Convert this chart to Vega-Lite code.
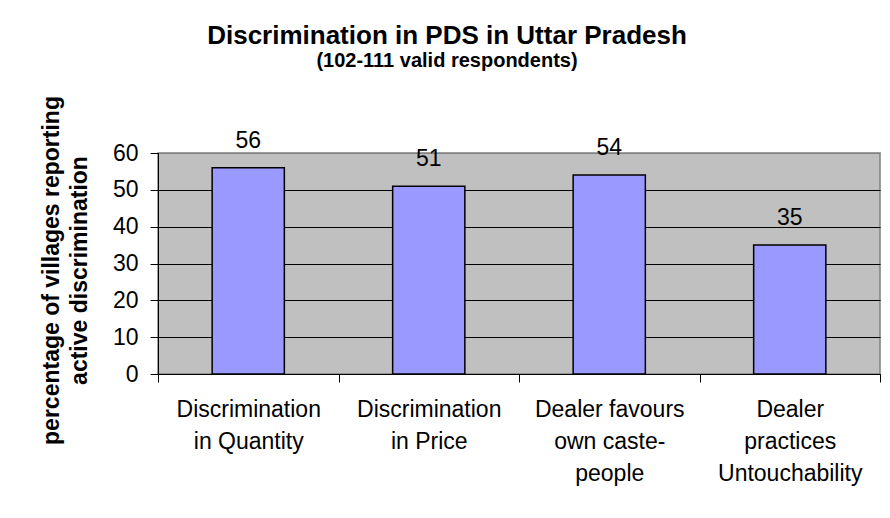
{
  "$schema": "https://vega.github.io/schema/vega-lite/v6.json",
  "width": 722,
  "height": 221,
  "autosize": "none",
  "padding": {"left": 158, "top": 153, "right": 10, "bottom": 144},
  "background": "white",
  "title": {
    "text": "Discrimination in PDS in Uttar Pradesh",
    "subtitle": "(102-111 valid respondents)",
    "font": "Liberation Sans",
    "fontSize": 26,
    "fontWeight": "bold",
    "color": "black",
    "subtitleFont": "Liberation Sans",
    "subtitleFontSize": 20,
    "subtitleFontWeight": "bold",
    "subtitleColor": "black",
    "subtitlePadding": 2,
    "anchor": "middle",
    "dx": -72,
    "offset": 25
  },
  "data": {
    "values": [
      {"category": "Discrimination in Quantity", "percent": 56},
      {"category": "Discrimination in Price", "percent": 51},
      {"category": "Dealer favours own caste-people", "percent": 54},
      {"category": "Dealer practices Untouchability", "percent": 35}
    ]
  },
  "encoding": {
    "x": {
      "field": "category",
      "type": "nominal",
      "sort": null,
      "scale": {"paddingInner": 0, "paddingOuter": 0},
      "axis": {
        "title": null,
        "labelAngle": 0,
        "tickBand": "extent",
        "domainColor": "black",
        "tickColor": "black",
        "tickSize": 8,
        "labelFont": "Liberation Sans",
        "labelFontSize": 23,
        "labelColor": "black",
        "labelPadding": 16,
        "labelLineHeight": 32,
        "labelBaseline": "top",
        "labelLimit": 0,
        "grid": false,
        "labelExpr": "datum.value == 'Discrimination in Quantity' ? ['Discrimination','in Quantity'] : datum.value == 'Discrimination in Price' ? ['Discrimination','in Price'] : datum.value == 'Dealer favours own caste-people' ? ['Dealer favours','own caste-','people'] : datum.value == 'Dealer practices Untouchability' ? ['Dealer','practices','Untouchability'] : ''"
      }
    },
    "y": {
      "field": "percent",
      "type": "quantitative",
      "scale": {"domain": [0, 60]},
      "axis": {
        "title": ["percentage of villages reporting", "active discrimination"],
        "titleFont": "Liberation Sans",
        "titleFontSize": 23,
        "titleFontWeight": "bold",
        "titleColor": "black",
        "titleLineHeight": 28,
        "titleAngle": -90,
        "titleAlign": "center",
        "titleBaseline": "top",
        "titleX": -118,
        "titleY": 117,
        "values": [0, 10, 20, 30, 40, 50, 60],
        "tickSize": 8,
        "tickColor": "black",
        "domainColor": "black",
        "labelFont": "Liberation Sans",
        "labelFontSize": 23,
        "labelColor": "black",
        "labelPadding": 12,
        "grid": true,
        "gridColor": {"condition": {"test": "datum.value === 60", "value": "#808080"}, "value": "black"},
        "gridWidth": 1
      }
    }
  },
  "layer": [
    {"mark": {"type": "bar", "fill": "#9999FF", "stroke": "black", "strokeWidth": 1.5, "width": {"band": 0.4}}},
    {
      "mark": {"type": "text", "baseline": "alphabetic", "dy": -20, "font": "Liberation Sans", "fontSize": 23, "color": "black"},
      "encoding": {"text": {"field": "percent", "type": "quantitative"}}
    }
  ],
  "config": {
    "view": {"fill": "#C0C0C0", "stroke": "#808080", "strokeWidth": 1.5}
  }
}
